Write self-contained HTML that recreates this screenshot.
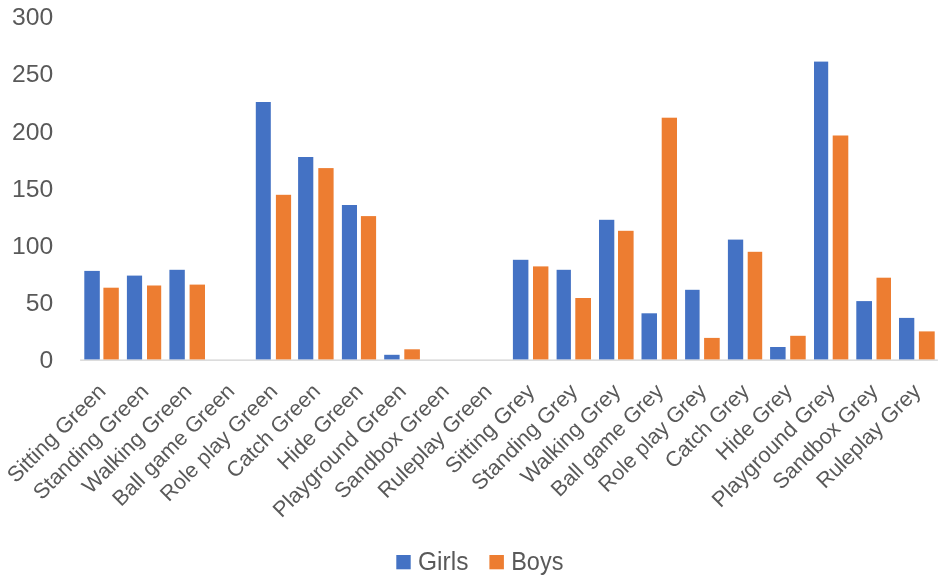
<!DOCTYPE html>
<html><head><meta charset="utf-8"><title>Chart</title>
<style>
html,body{margin:0;padding:0;background:#fff;}
body{width:945px;height:582px;overflow:hidden;}
svg{display:block;will-change:transform;}
text{font-family:"Liberation Sans",sans-serif;fill:#595959;}
</style></head><body>
<svg width="945" height="582" viewBox="0 0 945 582">
<rect x="0" y="0" width="945" height="582" fill="#ffffff"/>
<rect x="80.1" y="359.4" width="857.8" height="1.5" fill="#D9D9D9"/>
<rect x="84.3" y="270.9" width="15.5" height="88.5" fill="#4472C4"/><rect x="103.4" y="287.7" width="15.4" height="71.7" fill="#ED7D31"/>
<rect x="126.9" y="275.6" width="15.2" height="83.8" fill="#4472C4"/><rect x="147.0" y="285.5" width="14.2" height="73.9" fill="#ED7D31"/>
<rect x="169.4" y="269.8" width="15.4" height="89.6" fill="#4472C4"/><rect x="189.6" y="284.6" width="15.4" height="74.8" fill="#ED7D31"/>
<rect x="255.8" y="102.0" width="15.0" height="257.4" fill="#4472C4"/><rect x="275.9" y="194.8" width="15.2" height="164.6" fill="#ED7D31"/>
<rect x="298.1" y="157.0" width="15.2" height="202.4" fill="#4472C4"/><rect x="318.3" y="168.1" width="15.3" height="191.3" fill="#ED7D31"/>
<rect x="341.9" y="205.0" width="15.1" height="154.4" fill="#4472C4"/><rect x="360.9" y="216.1" width="15.2" height="143.3" fill="#ED7D31"/>
<rect x="384.2" y="354.8" width="15.4" height="4.6" fill="#4472C4"/><rect x="404.3" y="349.3" width="15.6" height="10.1" fill="#ED7D31"/>
<rect x="512.9" y="259.8" width="15.5" height="99.6" fill="#4472C4"/><rect x="533.0" y="266.4" width="15.4" height="93.0" fill="#ED7D31"/>
<rect x="556.6" y="269.8" width="14.3" height="89.6" fill="#4472C4"/><rect x="575.3" y="298.0" width="15.7" height="61.4" fill="#ED7D31"/>
<rect x="599.0" y="219.8" width="15.3" height="139.6" fill="#4472C4"/><rect x="618.0" y="230.8" width="15.6" height="128.6" fill="#ED7D31"/>
<rect x="641.5" y="313.3" width="15.5" height="46.1" fill="#4472C4"/><rect x="661.7" y="117.7" width="15.3" height="241.7" fill="#ED7D31"/>
<rect x="685.1" y="289.8" width="14.5" height="69.6" fill="#4472C4"/><rect x="704.1" y="337.9" width="15.6" height="21.5" fill="#ED7D31"/>
<rect x="727.9" y="239.6" width="15.3" height="119.8" fill="#4472C4"/><rect x="747.7" y="251.8" width="14.5" height="107.6" fill="#ED7D31"/>
<rect x="770.1" y="347.0" width="15.5" height="12.4" fill="#4472C4"/><rect x="790.2" y="335.8" width="15.5" height="23.6" fill="#ED7D31"/>
<rect x="814.0" y="61.6" width="14.2" height="297.8" fill="#4472C4"/><rect x="832.7" y="135.5" width="15.6" height="223.9" fill="#ED7D31"/>
<rect x="856.3" y="301.1" width="15.7" height="58.3" fill="#4472C4"/><rect x="876.5" y="277.7" width="14.5" height="81.7" fill="#ED7D31"/>
<rect x="899.0" y="317.9" width="15.3" height="41.5" fill="#4472C4"/><rect x="918.9" y="331.4" width="15.8" height="28.0" fill="#ED7D31"/>
<text x="53.2" y="368.2" font-size="24.7" text-anchor="end">0</text>
<text x="53.2" y="311.1" font-size="24.7" text-anchor="end">50</text>
<text x="53.2" y="253.9" font-size="24.7" text-anchor="end">100</text>
<text x="53.2" y="196.7" font-size="24.7" text-anchor="end">150</text>
<text x="53.2" y="139.6" font-size="24.7" text-anchor="end">200</text>
<text x="53.2" y="82.4" font-size="24.7" text-anchor="end">250</text>
<text x="53.2" y="25.2" font-size="24.7" text-anchor="end">300</text>
<text transform="translate(107.0,392.6) rotate(-45)" font-size="21.5" text-anchor="end" textLength="129.0" lengthAdjust="spacingAndGlyphs">Sitting Green</text>
<text transform="translate(149.9,392.6) rotate(-45)" font-size="21.5" text-anchor="end" textLength="153.1" lengthAdjust="spacingAndGlyphs">Standing Green</text>
<text transform="translate(192.8,392.6) rotate(-45)" font-size="21.5" text-anchor="end" textLength="144.4" lengthAdjust="spacingAndGlyphs">Walking Green</text>
<text transform="translate(235.7,392.6) rotate(-45)" font-size="21.5" text-anchor="end" textLength="162.3" lengthAdjust="spacingAndGlyphs">Ball game Green</text>
<text transform="translate(278.6,392.6) rotate(-45)" font-size="21.5" text-anchor="end" textLength="155.4" lengthAdjust="spacingAndGlyphs">Role play Green</text>
<text transform="translate(321.5,392.6) rotate(-45)" font-size="21.5" text-anchor="end" textLength="122.4" lengthAdjust="spacingAndGlyphs">Catch Green</text>
<text transform="translate(364.4,392.6) rotate(-45)" font-size="21.5" text-anchor="end" textLength="111.0" lengthAdjust="spacingAndGlyphs">Hide Green</text>
<text transform="translate(407.3,392.6) rotate(-45)" font-size="21.5" text-anchor="end" textLength="178.0" lengthAdjust="spacingAndGlyphs">Playground Green</text>
<text transform="translate(450.2,392.6) rotate(-45)" font-size="21.5" text-anchor="end" textLength="151.6" lengthAdjust="spacingAndGlyphs">Sandbox Green</text>
<text transform="translate(493.1,392.6) rotate(-45)" font-size="21.5" text-anchor="end" textLength="150.9" lengthAdjust="spacingAndGlyphs">Ruleplay Green</text>
<text transform="translate(535.9,392.6) rotate(-45)" font-size="21.5" text-anchor="end" textLength="116.3" lengthAdjust="spacingAndGlyphs">Sitting Grey</text>
<text transform="translate(578.8,392.6) rotate(-45)" font-size="21.5" text-anchor="end" textLength="139.9" lengthAdjust="spacingAndGlyphs">Standing Grey</text>
<text transform="translate(621.7,392.6) rotate(-45)" font-size="21.5" text-anchor="end" textLength="130.7" lengthAdjust="spacingAndGlyphs">Walking Grey</text>
<text transform="translate(664.6,392.6) rotate(-45)" font-size="21.5" text-anchor="end" textLength="148.7" lengthAdjust="spacingAndGlyphs">Ball game Grey</text>
<text transform="translate(707.5,392.6) rotate(-45)" font-size="21.5" text-anchor="end" textLength="142.2" lengthAdjust="spacingAndGlyphs">Role play Grey</text>
<text transform="translate(750.4,392.6) rotate(-45)" font-size="21.5" text-anchor="end" textLength="108.7" lengthAdjust="spacingAndGlyphs">Catch Grey</text>
<text transform="translate(793.3,392.6) rotate(-45)" font-size="21.5" text-anchor="end" textLength="97.3" lengthAdjust="spacingAndGlyphs">Hide Grey</text>
<text transform="translate(836.2,392.6) rotate(-45)" font-size="21.5" text-anchor="end" textLength="163.8" lengthAdjust="spacingAndGlyphs">Playground Grey</text>
<text transform="translate(879.1,392.6) rotate(-45)" font-size="21.5" text-anchor="end" textLength="138.4" lengthAdjust="spacingAndGlyphs">Sandbox Grey</text>
<text transform="translate(922.0,392.6) rotate(-45)" font-size="21.5" text-anchor="end" textLength="137.2" lengthAdjust="spacingAndGlyphs">Ruleplay Grey</text>
<rect x="396.3" y="555" width="14.4" height="14.3" fill="#4472C4"/>
<text x="418" y="570" font-size="25" textLength="50.4" lengthAdjust="spacingAndGlyphs">Girls</text>
<rect x="489.4" y="555" width="14.5" height="14.3" fill="#ED7D31"/>
<text x="511.2" y="570" font-size="25" textLength="52.2" lengthAdjust="spacingAndGlyphs">Boys</text>
</svg>
</body></html>
